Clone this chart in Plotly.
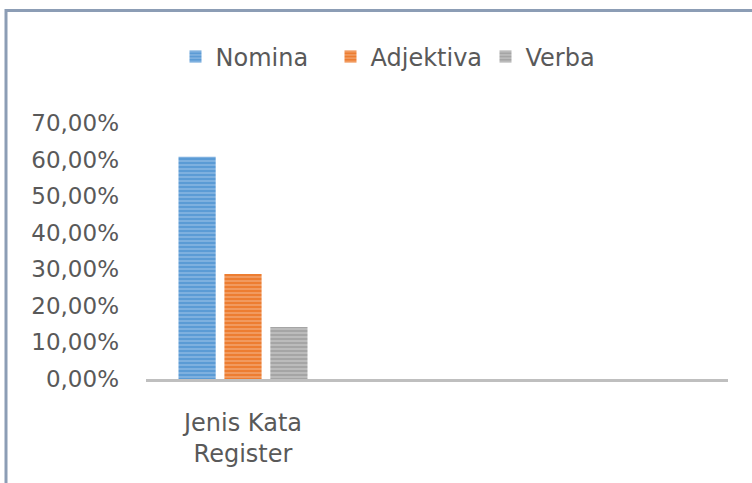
import plotly.graph_objects as go

categories = ["Jenis Kata<br>Register", " ", "  "]
series_names = ["Nomina", "Adjektiva", "Verba"]
nomina = [0.608, None, None]
adjektiva = [0.287, None, None]
verba = [0.142, None, None]
tick_vals = [0, 0.1, 0.2, 0.3, 0.4, 0.5, 0.6, 0.7]
tick_text = ["0,00%", "10,00%", "20,00%", "30,00%", "40,00%", "50,00%", "60,00%", "70,00%"]

base_colors = ["#5b9bd5", "#ed7d31", "#a5a5a5"]
stripe_colors = ["#a9caec", "#f7bd96", "#d6d6d6"]

FONT = "DejaVu Sans"
TXT = "#595959"

fig = go.Figure()
for name, vals, bc, sc in zip(series_names, [nomina, adjektiva, verba], base_colors, stripe_colors):
    fig.add_trace(go.Bar(
        name=name, x=categories, y=vals,
        marker=dict(color=bc, line=dict(width=0),
                    pattern=dict(shape="-", fillmode="overlay", fgcolor=sc,
                                 size=4, solidity=0.45)),
    ))

fig.update_layout(
    width=752, height=483, autosize=False,
    margin=dict(l=146, r=24, t=123, b=104),
    paper_bgcolor="white", plot_bgcolor="white",
    barmode="group", bargap=0.29, bargroupgap=0.19,
    font=dict(family=FONT, color=TXT, size=23),
    showlegend=True,
    legend=dict(orientation="h", x=(175.5 - 146) / 582, xanchor="left", y=1.258, yanchor="middle",
                font=dict(family=FONT, size=24, color=TXT), itemwidth=30,
                entrywidth=110, entrywidthmode="pixels",
                bgcolor="rgba(0,0,0,0)"),
    xaxis=dict(showgrid=False, showline=True, linecolor="#bfbfbf", linewidth=3,
               ticks="", tickfont=dict(family=FONT, size=24, color=TXT),
               ticklabelstandoff=20, zeroline=False),
    yaxis=dict(range=[0, 0.7], showgrid=False, showline=False, zeroline=False,
               tickvals=tick_vals, ticktext=tick_text, ticks="",
               tickfont=dict(family=FONT, size=23, color=TXT), ticklabelstandoff=26),
)

# outer frame (top and left edges visible)
fig.add_shape(type="rect", xref="paper", yref="paper",
              x0=(6 - 146) / 582, x1=1.2, y0=-0.6, y1=(379 - 10.5) / 256,
              line=dict(color="#8c9db5", width=3), fillcolor="rgba(0,0,0,0)", layer="below")

fig.write_html("out.html", config={"displayModeBar": False},
               post_script="document.body.style.margin='0';document.body.style.overflow='hidden';")
